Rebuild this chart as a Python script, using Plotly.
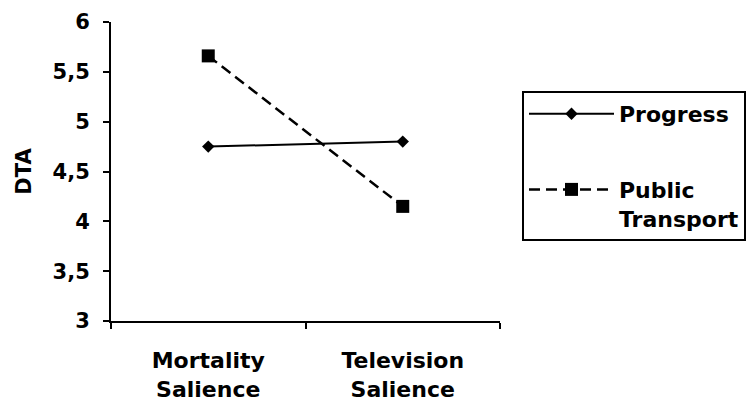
import plotly.graph_objects as go

categories = ["Mortality<br>Salience", "Television<br>Salience"]
progress = [4.75, 4.8]
public_transport = [5.66, 4.15]
series_names = ["Progress", "Public<br>Transport"]

FONT = "DejaVu Sans"
# page has an 8px body margin, so figure coords = page coords - 8
W, H = 746, 400
L, T = 103, 14
PLOT_BOTTOM = 313
PW = W - L
PH = PLOT_BOTTOM - T

fig = go.Figure()
fig.add_trace(go.Scatter(
    x=categories, y=progress, name=series_names[0], mode="lines+markers",
    line=dict(color="black", width=2, dash="solid"),
    marker=dict(symbol="diamond", size=9.5, color="black"),
    legendgroup="a",
))
fig.add_trace(go.Scatter(
    x=categories, y=public_transport, name=series_names[1], mode="lines+markers",
    line=dict(color="black", width=2.5, dash="11px,6px"),
    marker=dict(symbol="square", size=13, color="black"),
    legendgroup="b",
))

fig.update_layout(
    width=W, height=H,
    margin=dict(l=L, r=0, t=T, b=H - PLOT_BOTTOM),
    paper_bgcolor="white", plot_bgcolor="white",
    separators=", ",
    font=dict(family=FONT, color="black", size=21),
    showlegend=True,
    legend=dict(
        x=(514 - L) / PW, xanchor="left", y=1 - (83 - T) / PH, yanchor="top",
        bordercolor="black", borderwidth=2, bgcolor="white",
        font=dict(family=FONT, size=22, color="black", weight="bold"),
        itemwidth=85, tracegroupgap=44, valign="top", traceorder="grouped",
    ),
    xaxis=dict(
        domain=[0, (492 - L) / PW], type="category", range=[-0.5, 1.5],
        showline=True, linecolor="black", linewidth=2, showgrid=False, zeroline=False,
        ticks="outside", tickson="boundaries", ticklen=6, tickwidth=2, tickcolor="black",
        tickfont=dict(family=FONT, size=22, color="black", weight="bold"),
        ticklabelstandoff=19,
    ),
    yaxis=dict(
        range=[3, 6], dtick=0.5, tick0=3,
        showline=True, linecolor="black", linewidth=2, showgrid=False, zeroline=False,
        ticks="outside", ticklen=6, tickwidth=2, tickcolor="black",
        tickfont=dict(family=FONT, size=21, color="black", weight="bold"),
        ticklabelstandoff=9,
        title=dict(text="DTA", font=dict(family=FONT, size=21, color="black", weight="bold"), standoff=15),
    ),
)

fig.write_html("out.html")
